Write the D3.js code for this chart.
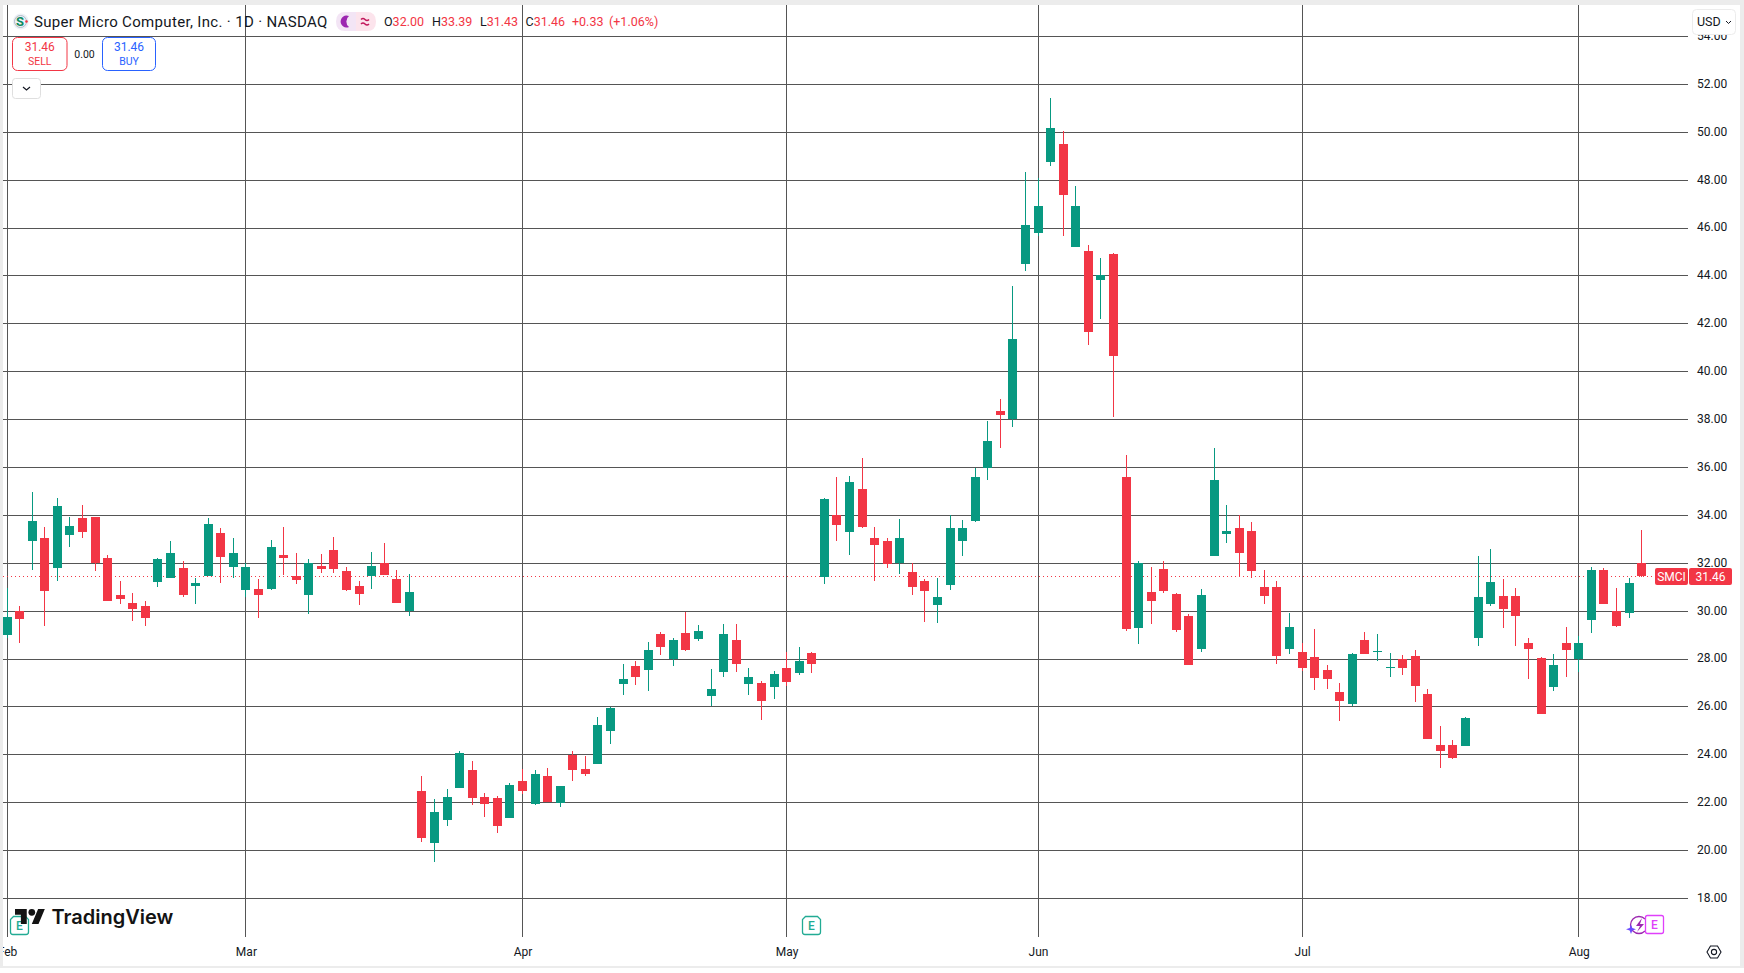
<!DOCTYPE html>
<html>
<head>
<meta charset="utf-8">
<script src="https://cdn.jsdelivr.net/npm/d3@7/dist/d3.min.js"></script>
<style>
html,body{margin:0;padding:0;background:#fff;}
svg{display:block;font-family:Roboto,"Noto Sans",sans-serif;}
</style>
</head>
<body>
<svg id="chart" width="1744" height="973"></svg>
<script>
const opens = [29.00,30.01,32.93,33.06,31.81,33.18,33.89,33.93,32.22,30.68,
30.35,30.22,31.22,31.39,31.81,31.06,31.47,33.26,31.85,30.89,
30.93,30.93,32.35,31.47,30.68,31.89,32.56,31.68,31.06,31.47,
32.00,31.35,30.00,22.51,20.31,21.26,22.60,23.35,22.22,22.18,
21.35,22.89,21.93,23.10,21.97,24.00,23.39,23.60,25.01,26.97,
27.72,27.56,29.06,28.01,29.10,28.85,26.47,27.47,28.81,26.97,
27.01,26.85,27.64,27.43,28.26,31.43,34.00,33.31,35.10,33.06,
32.93,32.00,31.64,31.26,30.26,31.10,32.93,33.76,35.97,38.35,
38.04,44.51,45.81,48.76,49.51,45.22,45.06,43.81,44.93,35.60,
29.31,30.81,31.76,30.72,29.81,28.43,32.31,33.22,33.47,33.35,
31.01,31.01,28.43,28.31,28.10,27.56,26.64,26.14,28.81,28.31,
27.64,28.01,28.14,26.56,24.39,24.39,24.36,28.89,30.31,30.64,
30.64,28.68,28.06,26.85,28.68,28.01,29.64,31.72,30.00,29.93,32.00];
const highs = [30.96,30.22,34.97,33.51,34.72,33.93,34.43,33.93,32.35,31.26,
30.76,30.43,32.22,32.93,32.10,31.39,33.89,33.47,33.06,32.00,
31.35,32.97,33.51,32.43,32.18,32.39,33.10,31.85,31.26,32.47,
32.85,31.72,31.56,23.10,22.14,22.56,24.18,23.76,22.39,22.26,
22.81,23.39,23.35,23.47,22.68,24.18,23.97,25.56,26.00,27.81,
27.93,28.72,29.14,28.89,29.96,29.43,27.60,29.47,29.47,27.64,
27.10,27.51,28.31,28.51,28.31,34.72,35.60,35.64,36.39,33.51,
33.06,33.85,32.00,31.35,31.39,34.00,33.81,35.97,37.94,38.85,
43.60,48.35,48.08,51.43,50.06,47.76,45.31,44.76,44.97,36.51,
32.10,31.85,32.10,30.76,29.89,30.93,36.81,34.43,34.00,33.72,
31.72,31.26,29.93,28.68,29.26,27.76,27.01,28.26,29.14,29.06,
28.26,28.18,28.39,26.76,25.22,24.60,25.57,32.31,32.60,31.35,
30.97,28.89,28.10,28.22,29.35,28.97,31.85,31.80,30.97,31.39,33.39];
const lows = [28.87,28.68,31.72,29.39,31.26,32.68,33.06,31.68,30.43,30.31,
29.60,29.39,31.01,31.39,30.60,30.31,31.47,31.18,31.39,30.60,
29.72,30.89,31.51,31.14,29.89,31.60,31.60,30.85,30.26,30.93,
31.51,30.35,29.81,20.35,19.51,21.01,22.60,21.89,21.39,20.72,
21.35,22.35,21.89,22.01,21.81,22.89,23.10,23.60,24.47,26.51,
26.93,26.68,28.18,27.72,28.35,28.76,26.06,27.26,27.47,26.51,
25.47,26.35,26.89,27.35,27.43,31.14,32.93,32.35,33.47,31.26,
31.81,31.56,30.68,29.56,29.51,30.89,32.31,33.72,35.47,36.81,
37.68,44.22,45.68,48.60,45.68,45.22,41.10,42.22,38.10,29.18,
28.64,29.47,30.76,29.14,27.76,28.31,32.31,32.85,31.43,31.39,
30.31,27.81,28.22,27.51,26.72,26.76,25.43,26.06,28.22,27.93,
27.26,27.35,26.22,24.68,23.43,23.81,24.36,28.56,30.22,29.31,
28.56,27.18,25.72,26.68,27.26,27.47,29.10,30.31,29.35,29.72,31.43];
const closes = [29.76,29.68,33.76,30.85,34.39,33.56,33.31,32.00,30.43,30.51,
30.10,29.72,32.18,32.43,30.68,31.18,33.64,32.26,32.43,31.85,
30.68,32.68,32.22,31.31,32.00,31.76,31.76,30.89,30.72,31.89,
31.51,30.35,30.81,20.51,21.60,22.22,24.06,22.18,21.93,21.01,
22.76,22.47,23.22,22.01,22.68,23.35,23.18,25.26,25.97,27.18,
27.26,28.39,28.51,28.81,28.39,29.18,26.76,29.06,27.81,27.26,
26.26,27.39,27.06,27.93,27.81,34.68,33.60,35.39,33.51,32.76,
31.97,33.06,31.01,30.85,30.60,33.47,33.47,35.60,37.10,38.18,
41.35,46.14,46.93,50.18,47.39,46.93,41.64,44.04,40.64,29.26,
32.00,30.43,30.85,29.22,27.76,30.68,35.47,33.35,32.43,31.68,
30.64,28.14,29.35,27.64,27.22,27.18,26.26,28.22,28.22,28.35,
27.68,27.64,26.89,24.68,24.18,23.85,25.53,30.60,31.22,30.10,
29.81,28.43,25.72,27.76,28.39,28.68,31.72,30.31,29.39,31.18,31.46];
const priceTicks = [18,20,22,24,26,28,30,32,34,36,38,40,42,44,46,48,50,52,54];
const monthLabels = ["Feb","Mar","Apr","May","Jun","Jul","Aug"];
const monthSessions = [0,19,41,62,82,103,125];
const earningsSessions = [1,64];
const lastPrice = 31.46;
const ohlcLegend = [["O","32.00",384],["H","33.39",432],["L","31.43",480],["C","31.46",525.5]];

const GREEN="#089981", RED="#F23645", GRID="#555555", TEXT="#131722";
const W=1744,H=973;
const sessions=d3.range(opens.length);
const x=d3.scaleLinear().domain([0,130]).range([7,1641.6]);
const y=d3.scaleLinear().domain([18,54]).range([898.5,36.5]);
const cx=i=>Math.floor(x(i))+0.5;
const snap=v=>Math.floor(y(v))+0.5;

const svg=d3.select("#chart");
svg.append("rect").attr("width",W).attr("height",H).attr("fill","#fff");

// grid
const grid=svg.append("g").attr("stroke",GRID).attr("stroke-width",1).attr("shape-rendering","crispEdges");
grid.selectAll(".h").data(priceTicks).join("line")
  .attr("x1",3).attr("x2",1688).attr("y1",d=>snap(d)).attr("y2",d=>snap(d));
grid.selectAll(".v").data(monthSessions).join("line")
  .attr("x1",d=>cx(d)).attr("x2",d=>cx(d)).attr("y1",5).attr("y2",937);

// last price line
svg.append("line").attr("x1",3).attr("x2",1655).attr("y1",snap(lastPrice)).attr("y2",snap(lastPrice))
  .attr("stroke",RED).attr("stroke-dasharray","1 3").attr("stroke-width",1).attr("shape-rendering","crispEdges");

// candles
const candles=svg.append("g").attr("shape-rendering","crispEdges");
const col=i=>closes[i]>=opens[i]?GREEN:RED;
candles.selectAll(".w").data(sessions).join("rect")
  .attr("x",i=>Math.floor(x(i))).attr("width",1)
  .attr("y",i=>y(highs[i])).attr("height",i=>y(lows[i])-y(highs[i]))
  .attr("fill",col);
candles.selectAll(".b").data(sessions).join("rect")
  .attr("x",i=>Math.floor(x(i))-4).attr("width",9)
  .attr("y",i=>y(Math.max(opens[i],closes[i])))
  .attr("height",i=>Math.max(1,Math.abs(y(opens[i])-y(closes[i]))))
  .attr("fill",col);

// earnings badges
const badge=svg.append("g");
badge.selectAll("g").data(earningsSessions).join("g")
  .attr("transform",i=>`translate(${cx(i)},925.5)`)
  .each(function(){
    const g=d3.select(this);
    g.append("path").attr("d","M-6,-9 H6 L9,-6 V6.5 Q9,9 6.5,9 H-6.5 Q-9,9 -9,6.5 V-6 Z")
      .attr("fill","#fff").attr("stroke","#22ab94").attr("stroke-width",1.3);
    g.append("text").text("E").attr("text-anchor","middle").attr("y",4.5).attr("font-size",12).attr("fill","#22ab94").attr("font-weight",500);
  });

// upcoming earnings + dividend style marks
const up=svg.append("g");
up.append("path").attr("d","M1645,919 A8.5,8.5 0 1,0 1645,931").attr("fill","none").attr("stroke","#9c27b0").attr("stroke-width",1.3);
up.append("path").attr("d","M1642,918 L1636,926 L1640,926 L1637,932 L1644,924 L1640,924 Z").attr("fill","#9c27b0");
up.append("path").attr("d","M1631,924.5 L1632.3,928 L1636,929.2 L1632.3,930.5 L1631,934 L1629.7,930.5 L1626,929.2 L1629.7,928 Z").attr("fill","#6a4bff");
up.append("rect").attr("x",1645.5).attr("y",915.5).attr("width",18).attr("height",18).attr("rx",2)
  .attr("fill","#fff").attr("stroke","#e040fb").attr("stroke-width",1.3);
up.append("text").text("E").attr("x",1654.5).attr("y",929).attr("text-anchor","middle").attr("font-size",12).attr("fill","#e040fb").attr("font-weight",500);

// TradingView logo
const logo=svg.append("g").attr("transform","translate(15,905.6) scale(0.84)").attr("fill","#131313");
logo.append("path").attr("d","M14 22H7V11H0V4h14v18ZM28 22h-8l7.5-18h8L28 22Z");
logo.append("circle").attr("cx",20).attr("cy",8).attr("r",4);
svg.append("text").text("TradingView").attr("x",51.5).attr("y",924).attr("font-family","Inter,Lato,sans-serif")
  .attr("font-size",20).attr("font-weight",600).attr("fill","#131313");

// y axis
const yAxis=d3.axisRight(y).tickValues(priceTicks).tickSize(0).tickPadding(0).tickFormat(d3.format(".2f"));
const yg=svg.append("g").attr("transform","translate(1697,-1)").call(yAxis);
yg.select(".domain").remove();
yg.selectAll("text").attr("font-size",12).attr("fill",TEXT).attr("font-family","Roboto,sans-serif");

// x axis
const xAxis=d3.axisBottom(x).tickValues(monthSessions).tickSize(0).tickPadding(13.5)
  .tickFormat(i=>monthLabels[monthSessions.indexOf(i)]);
const xg=svg.append("g").attr("transform","translate(0,934)").call(xAxis);
xg.select(".domain").remove();
xg.selectAll("text").attr("font-size",12).attr("fill",TEXT).attr("font-family","Roboto,sans-serif");

// SMCI price tag
svg.append("rect").attr("x",1655).attr("y",568).attr("width",33).attr("height",17).attr("rx",2).attr("fill",RED);
svg.append("rect").attr("x",1689).attr("y",568).attr("width",43).attr("height",17).attr("rx",2).attr("fill",RED);
svg.append("text").text("SMCI").attr("x",1671.5).attr("y",580.7).attr("text-anchor","middle").attr("font-size",12).attr("fill","#fff");
svg.append("text").text(d3.format(".2f")(lastPrice)).attr("x",1710.5).attr("y",580.7).attr("text-anchor","middle").attr("font-size",12).attr("fill","#fff");

// USD button
svg.append("rect").attr("x",1692.5).attr("y",9.5).attr("width",43).attr("height",25).attr("rx",4).attr("fill","#fff").attr("stroke","#ececec");
svg.append("text").text("USD").attr("x",1697).attr("y",26).attr("font-size",12.5).attr("fill",TEXT);
svg.append("path").attr("d","M1726,21 l2.5,2.5 l2.5,-2.5").attr("fill","none").attr("stroke",TEXT).attr("stroke-width",1);

// gear
svg.append("path").attr("d","M1707,952 L1710.5,946 H1717.5 L1721,952 L1717.5,958 H1710.5 Z").attr("fill","none").attr("stroke",TEXT).attr("stroke-width",1.1);
svg.append("circle").attr("cx",1714).attr("cy",952).attr("r",2.6).attr("fill","none").attr("stroke",TEXT).attr("stroke-width",1.1);

// legend
svg.append("circle").attr("cx",20.8).attr("cy",21.5).attr("r",8).attr("fill","#eef1f6");
svg.append("circle").attr("cx",20.5).attr("cy",21.5).attr("r",6).attr("fill","none").attr("stroke","#9aa6b5").attr("stroke-width",.7);
svg.append("text").text("S").attr("x",20).attr("y",26).attr("text-anchor","middle").attr("font-size",13).attr("font-weight",700).attr("fill","#0d8a5f");
svg.append("circle").attr("cx",26.5).attr("cy",21.5).attr("r",1.3).attr("fill",RED);
svg.append("text").text("Super Micro Computer, Inc. · 1D · NASDAQ").attr("x",34).attr("y",26.5).attr("font-size",15).attr("letter-spacing",0.33).attr("fill",TEXT);

svg.append("path").attr("d","M356,12 H345 Q336,12 336,21.5 Q336,31 345,31 H356 Z").attr("fill","#f3e5f5");
svg.append("path").attr("d","M356,12 H367 Q376,12 376,21.5 Q376,31 367,31 H356 Z").attr("fill","#fce4ec");
svg.append("path").attr("d","M349,16 A6,6 0 1,0 349,27 A7,7 0 0,1 349,16 Z").attr("fill","#9c27b0");
svg.append("path").attr("d","M361,19.5 q2,-2 4,0 t4,0 M361,24 q2,-2 4,0 t4,0").attr("fill","none").attr("stroke","#c2185b").attr("stroke-width",1.5);

const ohlc=svg.append("g").attr("font-size",12.5);
ohlcLegend.forEach(([k,v,px])=>{
  const t=ohlc.append("text").attr("x",px).attr("y",26);
  t.append("tspan").text(k).attr("fill",TEXT);
  t.append("tspan").text(v).attr("fill",RED);
});
ohlc.append("text").text("+0.33").attr("x",572).attr("y",26).attr("fill",RED);
ohlc.append("text").text("(+1.06%)").attr("x",609).attr("y",26).attr("fill",RED);

// buy/sell
function tradeBox(bx,w,color,label,val){
  svg.append("rect").attr("x",bx+.5).attr("y",37.5).attr("width",w).attr("height",33).attr("rx",5).attr("fill","#fff").attr("stroke",color);
  svg.append("text").text(val).attr("x",bx+w/2+.5).attr("y",51).attr("text-anchor","middle").attr("font-size",12).attr("fill",color);
  svg.append("text").text(label).attr("x",bx+w/2+.5).attr("y",65).attr("text-anchor","middle").attr("font-size",10.5).attr("fill",color);
}
tradeBox(12,54.5,RED,"SELL","31.46");
svg.append("text").text("0.00").attr("x",84.5).attr("y",57.5).attr("text-anchor","middle").attr("font-size",10.5).attr("fill",TEXT);
tradeBox(102,53,"#2962FF","BUY","31.46");
svg.append("rect").attr("x",12.5).attr("y",78.5).attr("width",28).attr("height",20).attr("rx",3).attr("fill","#fff").attr("stroke","#dfdfdf");
svg.append("path").attr("d","M23,87 l3.5,3 l3.5,-3").attr("fill","none").attr("stroke",TEXT).attr("stroke-width",1.2);

// window frame
const FRAME="#ececec";
svg.append("rect").attr("x",0).attr("y",0).attr("width",W).attr("height",5).attr("fill",FRAME);
svg.append("rect").attr("x",0).attr("y",0).attr("width",3).attr("height",968).attr("fill",FRAME);
svg.append("rect").attr("x",1740).attr("y",0).attr("width",4).attr("height",968).attr("fill",FRAME);
svg.append("rect").attr("x",0).attr("y",966).attr("width",W).attr("height",2).attr("fill",FRAME);
</script>
</body>
</html>
